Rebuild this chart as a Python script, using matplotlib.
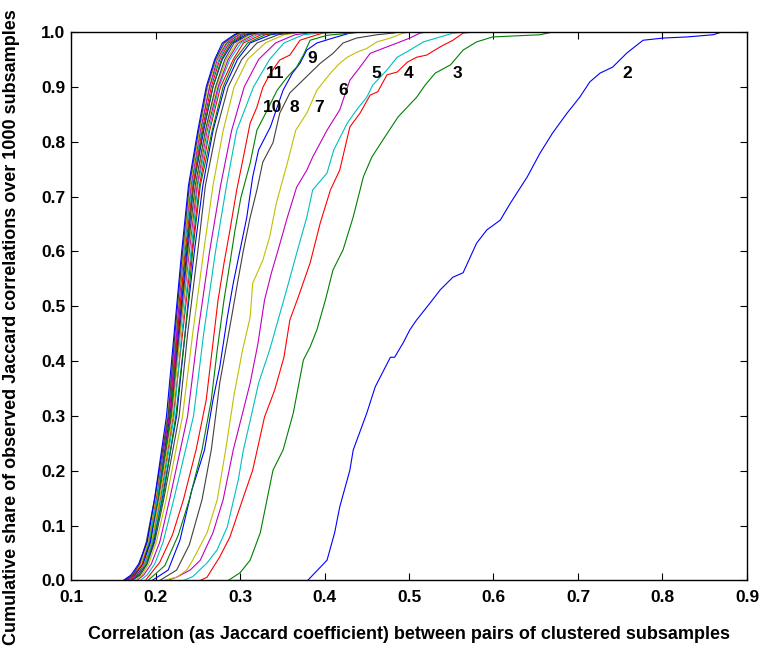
import matplotlib
matplotlib.use('Agg')
from matplotlib import pyplot as plt

plt.rcParams['font.family'] = ['Liberation Sans', 'DejaVu Sans']
plt.rcParams['font.weight'] = 'bold'

# MATLAB default line colour order
colors = [(0, 0, 1), (0, 0.5, 0), (1, 0, 0), (0, 0.75, 0.75),
          (0.75, 0, 0.75), (0.75, 0.75, 0), (0.25, 0.25, 0.25)]

# empirical CDFs for k = 2..11, traced point by point
c2_x = [0.290, 0.380, 0.403, 0.412, 0.418, 0.430, 0.434, 0.450, 0.460, 0.478,
        0.483, 0.493, 0.501, 0.509, 0.525, 0.537, 0.552, 0.564, 0.580, 0.592,
        0.608, 0.620, 0.640, 0.655, 0.670, 0.687, 0.702, 0.714, 0.726, 0.741,
        0.758, 0.777, 0.801, 0.829, 0.860, 0.870]
c2_y = [0.0, 0.0, 0.037, 0.087, 0.134, 0.201, 0.238, 0.305, 0.353, 0.407,
        0.407, 0.433, 0.457, 0.475, 0.506, 0.530, 0.553, 0.561, 0.615, 0.639,
        0.657, 0.688, 0.736, 0.779, 0.816, 0.852, 0.881, 0.909, 0.925, 0.936,
        0.962, 0.985, 0.989, 0.991, 0.995, 1.0]

c3_x = [0.286, 0.300, 0.312, 0.324, 0.339, 0.351, 0.363, 0.375, 0.383, 0.391,
        0.401, 0.410, 0.422, 0.434, 0.446, 0.456, 0.469, 0.487, 0.498, 0.509,
        0.519, 0.531, 0.549, 0.564, 0.580, 0.599, 0.655, 0.670]
c3_y = [0.0, 0.014, 0.037, 0.087, 0.201, 0.238, 0.305, 0.402, 0.426, 0.457,
        0.511, 0.566, 0.603, 0.663, 0.736, 0.772, 0.803, 0.845, 0.863, 0.881,
        0.903, 0.925, 0.940, 0.967, 0.982, 0.991, 0.995, 1.0]

c4_x = [0.253, 0.261, 0.276, 0.288, 0.304, 0.315, 0.329, 0.341, 0.352, 0.359,
        0.369, 0.383, 0.395, 0.407, 0.418, 0.430, 0.442, 0.454, 0.463, 0.474,
        0.486, 0.498, 0.509, 0.521, 0.537, 0.552, 0.564, 0.576]
c4_y = [0.0, 0.006, 0.043, 0.079, 0.152, 0.201, 0.298, 0.347, 0.407, 0.475,
        0.517, 0.579, 0.652, 0.712, 0.748, 0.827, 0.852, 0.885, 0.891, 0.922,
        0.927, 0.945, 0.954, 0.958, 0.973, 0.985, 0.998, 1.0]

c5_x = [0.233, 0.244, 0.261, 0.273, 0.285, 0.298, 0.304, 0.313, 0.322, 0.335,
        0.344, 0.355, 0.368, 0.379, 0.386, 0.403, 0.411, 0.427, 0.438, 0.450,
        0.457, 0.474, 0.486, 0.501, 0.517, 0.537, 0.552, 0.569]
c5_y = [0.0, 0.007, 0.032, 0.056, 0.098, 0.184, 0.238, 0.298, 0.360, 0.420,
        0.469, 0.529, 0.602, 0.662, 0.712, 0.743, 0.785, 0.834, 0.858, 0.881,
        0.903, 0.931, 0.954, 0.967, 0.982, 0.991, 0.998, 1.0]

c6_x = [0.214, 0.225, 0.241, 0.253, 0.268, 0.280, 0.292, 0.304, 0.312, 0.321,
        0.329, 0.337, 0.345, 0.356, 0.367, 0.379, 0.386, 0.403, 0.418, 0.430,
        0.442, 0.454, 0.469, 0.486, 0.501, 0.513, 0.521]
c6_y = [0.0, 0.006, 0.019, 0.037, 0.087, 0.147, 0.238, 0.311, 0.360, 0.430,
        0.511, 0.560, 0.602, 0.662, 0.717, 0.748, 0.772, 0.821, 0.858, 0.912,
        0.936, 0.961, 0.970, 0.980, 0.989, 0.998, 1.0]

c7_x = [0.209, 0.225, 0.237, 0.244, 0.261, 0.273, 0.283, 0.293, 0.303, 0.312,
        0.315, 0.327, 0.335, 0.343, 0.356, 0.366, 0.379, 0.391, 0.407, 0.418,
        0.427, 0.438, 0.450, 0.462, 0.478, 0.493, 0.501]
c7_y = [0.0, 0.006, 0.019, 0.037, 0.087, 0.147, 0.238, 0.339, 0.420, 0.480,
        0.542, 0.584, 0.626, 0.688, 0.761, 0.821, 0.852, 0.894, 0.925, 0.943,
        0.954, 0.963, 0.970, 0.982, 0.989, 0.998, 1.0]

c8_x = [0.205, 0.225, 0.240, 0.255, 0.266, 0.271, 0.276, 0.283, 0.290, 0.297,
        0.304, 0.312, 0.320, 0.327, 0.339, 0.347, 0.359, 0.371, 0.383, 0.395,
        0.410, 0.422, 0.438, 0.462, 0.481, 0.489]
c8_y = [0.0, 0.019, 0.065, 0.147, 0.238, 0.298, 0.360, 0.420, 0.480, 0.542,
        0.602, 0.662, 0.712, 0.763, 0.798, 0.852, 0.889, 0.907, 0.925, 0.943,
        0.961, 0.980, 0.989, 0.995, 0.998, 1.0]

c9_x = [0.196, 0.215, 0.229, 0.243, 0.258, 0.268, 0.276, 0.285, 0.292, 0.300,
        0.308, 0.315, 0.322, 0.326, 0.336, 0.344, 0.351, 0.362, 0.371, 0.379,
        0.391, 0.410, 0.430, 0.446]
c9_y = [0.0, 0.019, 0.074, 0.165, 0.238, 0.329, 0.389, 0.480, 0.542, 0.602,
        0.662, 0.736, 0.785, 0.797, 0.827, 0.863, 0.894, 0.925, 0.943, 0.967,
        0.980, 0.989, 0.998, 1.0]

c10_x = [0.191, 0.211, 0.227, 0.240, 0.255, 0.266, 0.273, 0.281, 0.288, 0.294,
         0.301, 0.312, 0.320, 0.332, 0.344, 0.356, 0.367, 0.375, 0.383, 0.403,
         0.430, 0.438]
c10_y = [0.0, 0.027, 0.083, 0.147, 0.238, 0.329, 0.420, 0.511, 0.578, 0.638,
         0.698, 0.761, 0.821, 0.857, 0.894, 0.918, 0.936, 0.958, 0.985, 0.994,
         0.998, 1.0]

c11_x = [0.188, 0.205, 0.220, 0.233, 0.248, 0.260, 0.267, 0.274, 0.281, 0.288,
         0.296, 0.304, 0.312, 0.320, 0.327, 0.336, 0.347, 0.359, 0.371, 0.383,
         0.398, 0.418]
c11_y = [0.0, 0.033, 0.083, 0.147, 0.238, 0.329, 0.420, 0.511, 0.578, 0.638,
         0.711, 0.772, 0.834, 0.863, 0.899, 0.925, 0.949, 0.958, 0.985, 0.991,
         0.998, 1.0]

# k = 12..30: correlation at fixed cumulative shares
levels = [0.0, 0.01, 0.03, 0.07, 0.15, 0.3, 0.45, 0.6, 0.72, 0.82, 0.9,
          0.95, 0.98, 0.995, 1.0]
c12_x = [0.182, 0.190, 0.199, 0.209, 0.222, 0.245, 0.257, 0.271, 0.284, 0.296, 0.316, 0.335, 0.352, 0.375, 0.405]
c13_x = [0.178, 0.186, 0.195, 0.205, 0.217, 0.238, 0.250, 0.264, 0.277, 0.290, 0.305, 0.322, 0.342, 0.365, 0.390]
c14_x = [0.175, 0.184, 0.192, 0.201, 0.213, 0.232, 0.244, 0.257, 0.268, 0.280, 0.293, 0.309, 0.330, 0.352, 0.375]
c15_x = [0.172, 0.182, 0.190, 0.199, 0.210, 0.228, 0.238, 0.250, 0.259, 0.272, 0.286, 0.302, 0.320, 0.345, 0.370]
c16_x = [0.171, 0.180, 0.189, 0.198, 0.208, 0.225, 0.235, 0.246, 0.256, 0.268, 0.282, 0.297, 0.312, 0.336, 0.360]
c17_x = [0.169, 0.180, 0.189, 0.197, 0.209, 0.224, 0.235, 0.244, 0.253, 0.267, 0.280, 0.294, 0.309, 0.330, 0.355]
c18_x = [0.170, 0.178, 0.187, 0.196, 0.206, 0.221, 0.232, 0.243, 0.252, 0.264, 0.277, 0.292, 0.304, 0.325, 0.348]
c19_x = [0.166, 0.177, 0.188, 0.196, 0.207, 0.222, 0.231, 0.242, 0.250, 0.263, 0.275, 0.288, 0.301, 0.320, 0.342]
c20_x = [0.168, 0.178, 0.186, 0.194, 0.204, 0.219, 0.229, 0.240, 0.249, 0.261, 0.274, 0.286, 0.298, 0.316, 0.336]
c21_x = [0.167, 0.176, 0.186, 0.195, 0.205, 0.220, 0.229, 0.239, 0.248, 0.260, 0.272, 0.284, 0.296, 0.313, 0.330]
c22_x = [0.165, 0.176, 0.184, 0.193, 0.203, 0.218, 0.228, 0.238, 0.247, 0.259, 0.271, 0.282, 0.293, 0.310, 0.326]
c23_x = [0.166, 0.175, 0.185, 0.194, 0.202, 0.217, 0.227, 0.237, 0.245, 0.257, 0.268, 0.279, 0.291, 0.307, 0.322]
c24_x = [0.164, 0.175, 0.183, 0.192, 0.203, 0.218, 0.226, 0.236, 0.245, 0.256, 0.268, 0.278, 0.289, 0.304, 0.318]
c25_x = [0.165, 0.174, 0.184, 0.191, 0.201, 0.216, 0.226, 0.235, 0.244, 0.255, 0.266, 0.276, 0.287, 0.302, 0.315]
c26_x = [0.163, 0.173, 0.182, 0.192, 0.202, 0.215, 0.224, 0.234, 0.243, 0.254, 0.264, 0.275, 0.285, 0.300, 0.312]
c27_x = [0.164, 0.174, 0.181, 0.190, 0.200, 0.216, 0.225, 0.233, 0.242, 0.253, 0.264, 0.273, 0.284, 0.298, 0.308]
c28_x = [0.162, 0.172, 0.183, 0.191, 0.200, 0.214, 0.223, 0.233, 0.241, 0.252, 0.262, 0.272, 0.282, 0.296, 0.305]
c29_x = [0.163, 0.173, 0.181, 0.189, 0.199, 0.215, 0.223, 0.232, 0.240, 0.251, 0.261, 0.271, 0.281, 0.295, 0.302]
c30_x = [0.162, 0.171, 0.180, 0.190, 0.199, 0.213, 0.222, 0.231, 0.239, 0.250, 0.260, 0.270, 0.279, 0.293, 0.300]

curves = [(c2_x, c2_y), (c3_x, c3_y), (c4_x, c4_y), (c5_x, c5_y),
          (c6_x, c6_y), (c7_x, c7_y), (c8_x, c8_y), (c9_x, c9_y),
          (c10_x, c10_y), (c11_x, c11_y)]
for xs in [c12_x, c13_x, c14_x, c15_x, c16_x, c17_x, c18_x, c19_x, c20_x,
           c21_x, c22_x, c23_x, c24_x, c25_x, c26_x, c27_x, c28_x, c29_x,
           c30_x]:
    curves.append((xs, levels))

# curve labels (number of clusters k)
label_k = ['2', '3', '4', '5', '6', '7', '8', '9', '10', '11']
label_x = [0.758, 0.557, 0.499, 0.461, 0.422, 0.393, 0.364, 0.385, 0.339, 0.341]
label_y = [0.924, 0.924, 0.924, 0.924, 0.894, 0.863, 0.863, 0.952, 0.863, 0.924]

fig = plt.figure(figsize=(7.62, 6.52), dpi=100)
ax = fig.add_axes([0.0932, 0.1097, 0.8871, 0.8412])

for i, (xs, ys) in enumerate(curves):
    ax.plot(xs, ys, color=colors[i % 7], linewidth=0.8)

for k, x, y in zip(label_k, label_x, label_y):
    ax.text(x, y, k, fontsize=12.5, fontweight='bold', ha='center', va='center')

ax.set_xlim(0.1, 0.9)
ax.set_ylim(0.0, 1.0)
ax.set_xticks([0.1, 0.2, 0.3, 0.4, 0.5, 0.6, 0.7, 0.8, 0.9])
ax.set_yticks([i / 10 for i in range(11)])
ax.set_xticklabels(['0.1', '0.2', '0.3', '0.4', '0.5', '0.6', '0.7', '0.8', '0.9'])
ax.set_yticklabels(['%.1f' % (i / 10) for i in range(11)])
ax.tick_params(direction='in', length=5, width=0.8, top=True, right=True,
               labelsize=12.5)
ax.tick_params(axis='x', pad=7)
ax.tick_params(axis='y', pad=4)
for s in ax.spines.values():
    s.set_linewidth(1.0)

ax.set_xlabel('Correlation (as Jaccard coefficient) between pairs of clustered subsamples',
              fontsize=13, fontweight='bold')
ax.set_ylabel('Cumulative share of observed Jaccard correlations over 1000 subsamples',
              fontsize=13, fontweight='bold')
ax.xaxis.set_label_coords(0.5, -0.083)
ax.yaxis.set_label_coords(-0.075, 0.462)

fig.savefig('out.png', dpi=100)
